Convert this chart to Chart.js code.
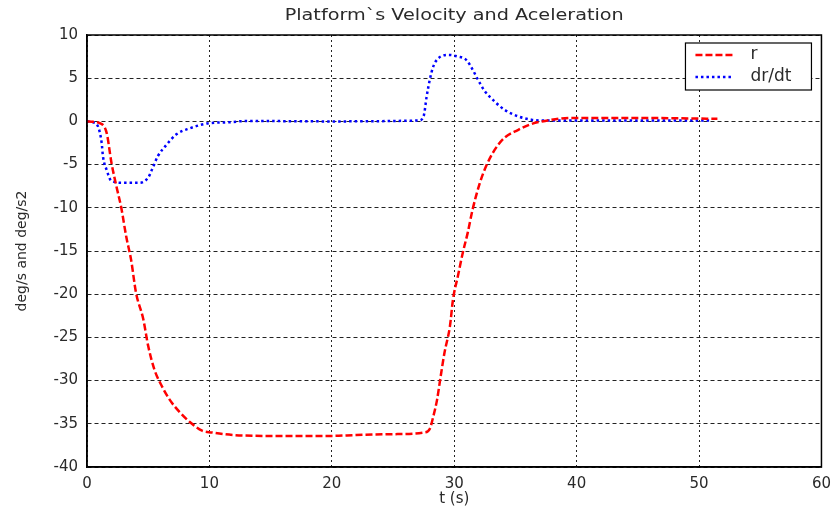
<!DOCTYPE html>
<html>
<head>
<meta charset="utf-8">
<script src="https://cdn.jsdelivr.net/npm/chart.js@4.4.1/dist/chart.umd.min.js"></script>
<style>
  html, body { margin: 0; padding: 0; background: #fff; }
  #wrap { width: 839px; height: 515px; position: relative; }
</style>
</head>
<body>
<div id="wrap"><canvas id="plot"></canvas></div>
<script>
// r (deg/s)
const tR = [0, 0.5, 1.05, 1.6, 2.0, 2.4, 2.8, 3.2, 3.6, 4.0, 4.6, 5.0, 5.5, 6.1, 6.75, 7.6, 8.4, 9.4, 10.2,
  12, 15, 20, 22, 25, 27.6, 28.0, 28.3, 28.6, 28.85, 29.2, 29.65, 29.9, 30.3, 30.7, 31.1, 31.5, 32.1,
  32.6, 33.3, 34.1, 35.2, 36.3, 37.6, 39.5, 45, 51.5];
const rVals = [0, -0.05, -0.2, -1.3, -4.8, -7.5, -10, -13.3, -16, -19.8, -22.9, -26, -28.7, -30.6, -32.2, -33.7, -34.8, -35.8, -36.0,
  -36.3, -36.4, -36.4, -36.3, -36.2, -36.0, -35.6, -34.1, -32.2, -29.9, -26.8, -23.7, -20.6, -17.9, -15.2, -12.9, -10.2, -7.1,
  -5.2, -3.3, -1.9, -1.0, -0.3, 0.1, 0.4, 0.4, 0.3];

// dr/dt (deg/s2)
const tDr = [0, 0.5, 0.9, 1.2, 1.3, 1.6, 2.0, 2.95, 4.3, 5.0, 5.3, 5.8, 6.5, 7.3, 8.4, 10.0, 11.6, 13, 20,
  27.1, 27.5, 27.75, 28.0, 28.3, 28.7, 29.5, 30.3, 31.0, 31.5, 31.95, 32.5, 33.3, 34.1, 35.2, 36.3, 37.6, 45, 51];
const drVals = [0, -0.1, -0.6, -2.5, -4, -5.6, -6.9, -7.1, -7.1, -6.5, -5.6, -4.0, -2.7, -1.5, -0.8, -0.2, -0.1, 0.05, 0,
  0.1, 0.6, 2.9, 4.8, 6.4, 7.3, 7.7, 7.5, 7.1, 6.0, 4.8, 3.5, 2.3, 1.35, 0.6, 0.2, 0.1, 0.1, 0.1];

const xTicks = [0, 10, 20, 30, 40, 50, 60];
const yTicks = [10, 5, 0, -5, -10, -15, -20, -25, -30, -35, -40];
const seriesNames = ['r', 'dr/dt'];

const FONT = '"DejaVu Sans", sans-serif';
const TXT = '#2a2a2a';

const toXY = (xs, ys) => xs.map((x, i) => ({ x: x, y: ys[i] }));

// title, plot frame and boxed legend in Matlab style
const matlabBits = {
  id: 'matlabBits',
  afterDraw(chart) {
    const { ctx, chartArea: a } = chart;
    ctx.save();
    ctx.strokeStyle = '#000';
    ctx.lineWidth = 1.5;
    ctx.setLineDash([]);
    ctx.strokeRect(a.left, a.top, a.right - a.left, a.bottom - a.top);

    // title, a bit wider like the old Matlab screen font
    ctx.save();
    ctx.translate((a.left + a.right) / 2, 16);
    ctx.scale(1.2, 1);
    ctx.fillStyle = TXT;
    ctx.font = '16px ' + FONT;
    ctx.textAlign = 'center';
    ctx.textBaseline = 'middle';
    ctx.fillText('Platform`s Velocity and Aceleration', 0, 0);
    ctx.restore();

    // legend box
    const bx = a.right - 136, by = a.top + 8, bw = 126, bh = 47;
    ctx.fillStyle = '#fff';
    ctx.fillRect(bx, by, bw, bh);
    ctx.strokeStyle = '#000';
    ctx.lineWidth = 1.2;
    ctx.strokeRect(bx, by, bw, bh);
    chart.data.datasets.forEach((ds, i) => {
      const yy = by + 12 + i * 22;
      ctx.strokeStyle = ds.borderColor;
      ctx.lineWidth = ds.borderWidth;
      ctx.setLineDash(ds.borderDash);
      ctx.beginPath();
      ctx.moveTo(bx + 10, yy);
      ctx.lineTo(bx + 48, yy);
      ctx.stroke();
      ctx.setLineDash([]);
      ctx.fillStyle = TXT;
      ctx.textAlign = 'left';
      ctx.textBaseline = 'middle';
      ctx.font = '17px ' + FONT;
      ctx.fillText(ds.label, bx + 65, yy);
    });
    ctx.restore();
  }
};

new Chart(document.getElementById('plot'), {
  type: 'line',
  data: {
    datasets: [
      {
        label: seriesNames[0],
        data: toXY(tR, rVals),
        borderColor: '#ff0000',
        borderWidth: 2.5,
        borderDash: [7, 3],
        pointRadius: 0,
        fill: false,
        cubicInterpolationMode: 'monotone'
      },
      {
        label: seriesNames[1],
        data: toXY(tDr, drVals),
        borderColor: '#0000ff',
        borderWidth: 2.5,
        borderDash: [2.5, 3],
        pointRadius: 0,
        fill: false,
        cubicInterpolationMode: 'monotone'
      }
    ]
  },
  options: {
    responsive: true,
    maintainAspectRatio: false,
    animation: false,
    layout: { padding: { top: 35, right: 13, left: 0, bottom: 0 } },
    plugins: {
      legend: { display: false },
      tooltip: { enabled: false },
      title: { display: false }
    },
    scales: {
      x: {
        type: 'linear',
        min: 0,
        max: 60,
        afterBuildTicks: s => { s.ticks = xTicks.map(v => ({ value: v })); },
        afterFit: s => { s.height = 48; },
        grid: { color: '#222', lineWidth: 1, drawTicks: false },
        border: { display: true, color: '#000', width: 1.5, dash: [2, 3] },
        ticks: { color: TXT, padding: 8, font: { family: FONT, size: 15 }, maxRotation: 0 },
        title: { display: true, text: 't (s)', color: TXT, font: { family: FONT, size: 15 }, padding: { top: 0, bottom: 7 } }
      },
      y: {
        min: -40,
        max: 10,
        afterBuildTicks: s => { s.ticks = yTicks.map(v => ({ value: v })); },
        afterFit: s => { s.width = 87; },
        grid: { color: '#222', lineWidth: 1, drawTicks: false },
        border: { display: true, color: '#000', width: 1.5, dash: [4, 3] },
        ticks: { color: TXT, padding: 9, font: { family: FONT, size: 15 } },
        title: { display: true, text: 'deg/s and deg/s2', color: TXT, font: { family: FONT, size: 14 }, padding: { top: 14, bottom: 0 } }
      }
    }
  },
  plugins: [matlabBits]
});
</script>
</body>
</html>
